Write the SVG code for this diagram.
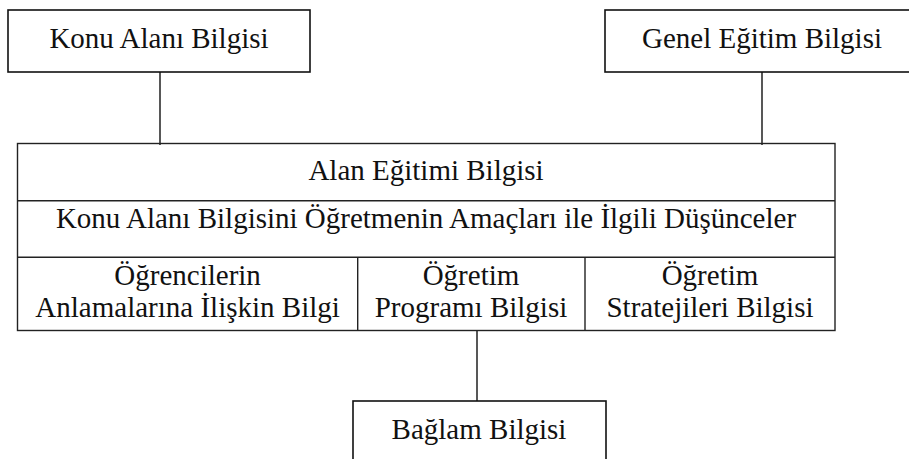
<svg xmlns="http://www.w3.org/2000/svg" width="909" height="459" viewBox="0 0 909 459">
  <style>
    .box { fill: #fff; stroke: #111; stroke-width: 1.6; }
    .cell { fill: none; stroke: #222; stroke-width: 1.4; }
    .link { fill: none; stroke: #111; stroke-width: 1.4; }
    .t { font-family: "Times New Roman", "Liberation Serif", Times, serif; font-size: 29px; fill: #111; text-anchor: middle; }
  </style>
  <rect width="909" height="459" fill="#fff"/>

  <!-- connectors -->
  <g id="connectors">
    <line class="link" x1="160" y1="72" x2="160" y2="145"/>
    <line class="link" x1="762" y1="72" x2="762" y2="145"/>
    <line class="link" x1="477" y1="331" x2="477" y2="401"/>
  </g>

  <g id="konu-alani">
    <rect class="box" x="8" y="10" width="302" height="62"/>
    <text class="t" x="159" y="48">Konu Alanı Bilgisi</text>
  </g>

  <g id="genel-egitim">
    <rect class="box" x="605" y="10" width="320" height="62"/>
    <text class="t" x="762" y="48">Genel Eğitim Bilgisi</text>
  </g>

  <g id="alan-egitimi">
    <rect class="cell" x="17.5" y="143.5" width="817.5" height="187"/>
    <line class="cell" x1="17.5" y1="200.7" x2="835" y2="200.7"/>
    <line class="cell" x1="17.5" y1="257.3" x2="835" y2="257.3"/>
    <line class="cell" x1="357.7" y1="257.3" x2="357.7" y2="330.5"/>
    <line class="cell" x1="585" y1="257.3" x2="585" y2="330.5"/>
    <text class="t" x="426" y="180">Alan Eğitimi Bilgisi</text>
    <text class="t" x="426" y="228">Konu Alanı Bilgisini Öğretmenin Amaçları ile İlgili Düşünceler</text>
    <text class="t" x="187.6" y="285">Öğrencilerin</text>
    <text class="t" x="187.6" y="316.5">Anlamalarına İlişkin Bilgi</text>
    <text class="t" x="471" y="285">Öğretim</text>
    <text class="t" x="471" y="316.5">Programı Bilgisi</text>
    <text class="t" x="710" y="285">Öğretim</text>
    <text class="t" x="710" y="316.5">Stratejileri Bilgisi</text>
  </g>

  <g id="baglam">
    <rect class="box" x="353" y="401" width="253" height="80"/>
    <text class="t" x="479" y="439">Bağlam Bilgisi</text>
  </g>
</svg>
